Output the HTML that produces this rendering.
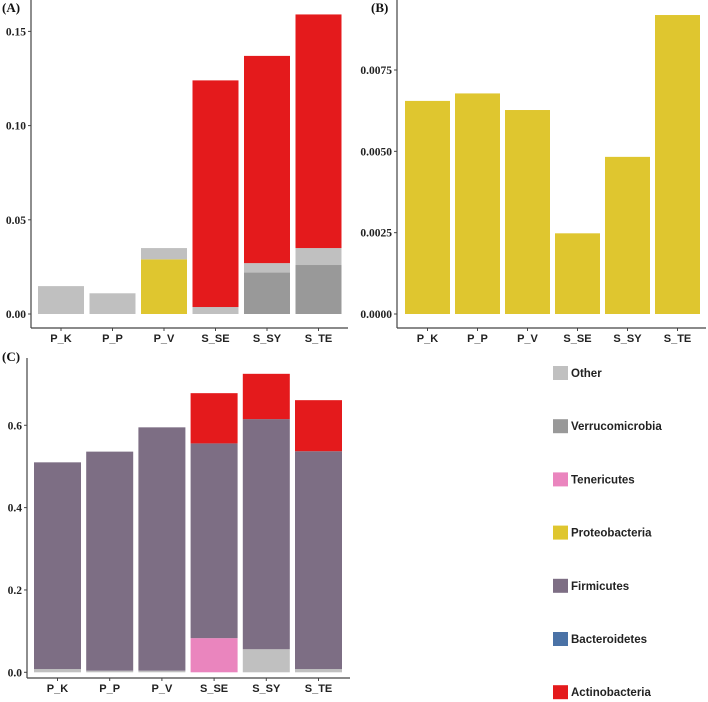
<!DOCTYPE html>
<html><head><meta charset="utf-8"><style>
html,body{margin:0;padding:0;background:#fff;}
svg{display:block;}
.tk{font-family:"Liberation Serif",serif;font-weight:bold;font-size:11.5px;fill:#222;}
.xl{font-family:"Liberation Sans",sans-serif;font-weight:bold;font-size:11px;fill:#222;}
.pl{font-family:"Liberation Serif",serif;font-weight:bold;font-size:13px;fill:#111;}
.lg{font-family:"Liberation Sans",sans-serif;font-weight:bold;font-size:11.5px;fill:#222;}
</style></head><body>
<svg id="chart" width="708" height="702" viewBox="0 0 708 702" xmlns="http://www.w3.org/2000/svg"></svg>
<script>
const categories = ["P_K","P_P","P_V","S_SE","S_SY","S_TE"];
// Panel A stacked (bottom to top)
const aVerruco = [0,0,0,0,0.022,0.026];
const aOther   = [0.0148,0.011,0,0.0037,0.005,0.009];
const aProteo  = [0,0,0.029,0,0,0];
const aOtherTop= [0,0,0.006,0,0,0];
const aActino  = [0,0,0,0.1203,0.110,0.124];
const aTicks = [0,0.05,0.10,0.15];
const aTickLabels = ["0.00","0.05","0.10","0.15"];
// Panel B
const bProteo = [0.00655,0.00678,0.00627,0.00248,0.00483,0.00919];
const bTicks = [0,0.0025,0.005,0.0075];
const bTickLabels = ["0.0000","0.0025","0.0050","0.0075"];
// Panel C stacked
const cOther  = [0.008,0.004,0.004,0,0.056,0.008];
const cTeneric= [0,0,0,0.083,0,0];
const cFirm   = [0.502,0.532,0.591,0.473,0.559,0.529];
const cActino = [0,0,0,0.122,0.110,0.124];
const cTicks = [0,0.2,0.4,0.6];
const cTickLabels = ["0.0","0.2","0.4","0.6"];
const legendNames = ["Other","Verrucomicrobia","Tenericutes","Proteobacteria","Firmicutes","Bacteroidetes","Actinobacteria"];
const legendColors = ["#c0c0c0","#999999","#ea85be","#dfc62f","#7d6e84","#4a72a6","#e41a1c"];

const C = {other:"#c0c0c0",verr:"#999999",ten:"#ea85be",pro:"#dfc62f",firm:"#7d6e84",act:"#e41a1c"};
const svg = document.getElementById('chart');
const NS = "http://www.w3.org/2000/svg";
function mk(tag, attrs, parent){const e=document.createElementNS(NS,tag);for(const k in attrs)e.setAttribute(k,attrs[k]);(parent||svg).appendChild(e);return e;}

function panel(p){
  const g = mk('g',{});
  
  
  const y = v => p.y0 - v*p.scale;
  const x = i => p.x0 + i*p.step;
  const ya = mk('line',{x1:p.ax,y1:p.top,x2:p.ax,y2:p.ay,stroke:"#444","stroke-width":1.2},g);
  
  
  const xa = mk('line',{x1:p.ax,y1:p.ay,x2:p.right,y2:p.ay,stroke:"#444","stroke-width":1.2},g);
  
  
  p.ticks.forEach((t,i)=>{
    mk('line',{x1:p.ax-3,y1:y(t),x2:p.ax,y2:y(t),stroke:"#444"},g);
    const tx = mk('text',{x:p.ax-5,y:y(t)+4,"text-anchor":"end",class:"tk"},g);
    tx.textContent = p.tickLabels[i];
    
    
  });
  categories.forEach((c,i)=>{
    let base = 0;
    p.series.forEach(s=>{
      const v = s.vals[i];
      if(v>0){
        const r = mk('rect',{x:x(i),y:y(base+v),width:p.bw,height:v*p.scale,fill:s.color},g);
        
        
      }
      base += v;
    });
    const cx = x(i)+p.bw/2;
    mk('line',{x1:cx,y1:p.ay,x2:cx,y2:p.ay+3,stroke:"#444"},g);
    const lt = mk('text',{x:cx,y:p.ay+14,"text-anchor":"middle",class:"xl"},g);
    lt.textContent = c;
    
    
  });
  const pl = mk('text',{x:p.lx,y:p.ly,class:"pl"},g);
  pl.textContent = p.label;
  
  
}

panel({name:"panel-a",x0:38,step:51.5,bw:46,y0:314,scale:1884,ax:31,ay:328,top:0,right:348,
  ticks:aTicks,tickLabels:aTickLabels,label:"(A)",lx:2,ly:12,
  series:[{key:"verrucomicrobia",vals:aVerruco,color:C.verr},{key:"other",vals:aOther,color:C.other},
          {key:"proteobacteria",vals:aProteo,color:C.pro},{key:"other-top",vals:aOtherTop,color:C.other},
          {key:"actinobacteria",vals:aActino,color:C.act}]});
panel({name:"panel-b",x0:405,step:50,bw:45,y0:314,scale:32533,ax:397,ay:328,top:0,right:706,
  ticks:bTicks,tickLabels:bTickLabels,label:"(B)",lx:371,ly:12,
  series:[{key:"proteobacteria",vals:bProteo,color:C.pro}]});
panel({name:"panel-c",x0:34,step:52.2,bw:47,y0:672.3,scale:411.7,ax:27,ay:678,top:358,right:350,
  ticks:cTicks,tickLabels:cTickLabels,label:"(C)",lx:2,ly:361,
  series:[{key:"other",vals:cOther,color:C.other},{key:"tenericutes",vals:cTeneric,color:C.ten},
          {key:"firmicutes",vals:cFirm,color:C.firm},{key:"actinobacteria",vals:cActino,color:C.act}]});

legendNames.forEach((n,i)=>{
  const yy = 373 + i*53.2;
  const g = mk('g',{});
  
  
  mk('rect',{x:553,y:yy-7,width:15,height:14,fill:legendColors[i]},g);
  const t = mk('text',{x:571,y:yy+4,class:"lg"},g);
  t.textContent = n;
});
</script>
</body></html>
